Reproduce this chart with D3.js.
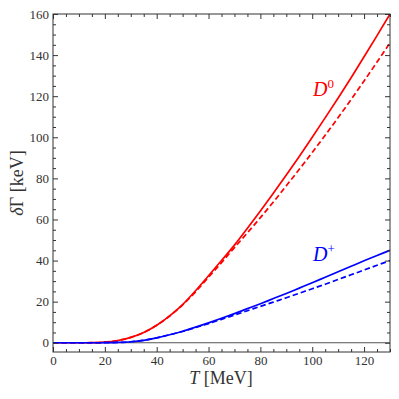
<!DOCTYPE html>
<html><head><meta charset="utf-8">
<script src="https://cdn.jsdelivr.net/npm/d3@7"></script>
<style>body{margin:0;background:#fff}svg{display:block}</style>
</head><body>
<svg id="c" width="399" height="399"></svg>
<script>
const T = [0,5,10,15,20,25,30,35,40,45,50,55,60,65,70,75,80,85,90,95,100,105,110,115,120,125,130];
const D0_full = [0,0,0,0.02,0.3,1.1,2.6,5.0,8.5,13.1,18.6,25.3,32.6,40.0,47.5,55.7,64.15,72.8,81.6,90.7,100.0,109.5,119.1,129.0,139.2,149.5,160.0];
const D0_approx = [0,0,0,0.02,0.3,1.1,2.6,5.0,8.5,13.0,18.4,24.8,31.9,39.0,46.3,53.5,60.9,68.5,76.4,84.4,92.6,101.0,109.6,118.4,127.4,136.6,146.0];
const Dp_full = [0,0,0,0,0.02,0.15,0.5,1.2,2.4,3.9,5.6,7.6,9.7,11.9,14.2,16.6,19.0,21.5,24.0,26.6,29.2,31.9,34.6,37.2,39.9,42.45,45.0];
const Dp_approx = [0,0,0,0,0.02,0.15,0.5,1.2,2.4,3.9,5.5,7.4,9.3,11.4,13.5,15.6,17.7,19.8,21.9,24.1,26.3,28.5,30.8,33.1,35.4,37.7,40.0];
const xTicks = [0,20,40,60,80,100,120];
const yTicks = [0,20,40,60,80,100,120,140,160];

const svg = d3.select("#c");
const L=53, R=390, Tp=14, B=352;
const x = d3.scaleLinear().domain([0,130]).range([L,R]);
const y = d3.scaleLinear().domain([-4.5,160]).range([B,Tp]);
const font = '"Liberation Serif"';
const axCol = "#333";

svg.append("clipPath").attr("id","clip").append("rect").attr("x",L).attr("y",Tp).attr("width",R-L).attr("height",B-Tp);

// zero line
svg.append("line").attr("x1",L).attr("x2",R).attr("y1",y(0)).attr("y2",y(0)).attr("stroke","#555").attr("stroke-width",1);

const line = d3.line().x((d,i)=>x(T[i])).y(d=>y(d)).curve(d3.curveMonotoneX);
const g = svg.append("g").attr("clip-path","url(#clip)");
const series = [
  [D0_approx,"#ff0000","5.5,3"],
  [D0_full,"#ff0000",null],
  [Dp_approx,"#0000ff","5.5,3"],
  [Dp_full,"#0000ff",null]
];
series.forEach(([d,c,dash])=>{
  g.append("path").attr("d",line(d)).attr("fill","none").attr("stroke",c).attr("stroke-width",1.7)
   .attr("stroke-dasharray",dash);
});

// axes with inward ticks on all sides
const xMinor = d3.range(0,131,5).filter(v=>v%20!==0);
const yMinor = d3.range(0,161,5).filter(v=>v%20!==0);
function ax(axisFn, scale, major, minor, tx, ty, labels){
  const gm = svg.append("g").attr("transform",`translate(${tx},${ty})`)
    .call(axisFn(scale).tickValues(major).tickSizeInner(-5).tickSizeOuter(0).tickFormat(labels?d3.format("d"):""));
  svg.append("g").attr("transform",`translate(${tx},${ty})`)
    .call(axisFn(scale).tickValues(minor).tickSizeInner(-3).tickSizeOuter(0).tickFormat(""));
  return gm;
}
const gxB = ax(d3.axisBottom,x,xTicks,xMinor,0,B,true);
ax(d3.axisTop,x,xTicks,xMinor,0,Tp,false);
const gyL = ax(d3.axisLeft,y,yTicks,yMinor,L,0,true);
ax(d3.axisRight,y,yTicks,yMinor,R,0,false);
svg.selectAll(".domain").remove();
svg.selectAll("g").attr("font-family",null);
svg.selectAll(".tick line").attr("stroke",axCol);
svg.append("rect").attr("x",L).attr("y",Tp).attr("width",R-L).attr("height",B-Tp).attr("fill","none").attr("stroke",axCol).attr("stroke-width",1);
gxB.selectAll("text").style("font-family",font).style("font-size","13px").attr("fill",axCol).attr("dy",null).attr("y",13);
gyL.selectAll("text").style("font-family",font).style("font-size","13px").attr("fill",axCol).attr("x",-4).attr("dy","0.32em");

// axis titles
const xt = svg.append("text").attr("x",221).attr("y",384).attr("text-anchor","middle").style("font-family",font).style("font-size","18px").attr("fill",axCol);
xt.append("tspan").style("font-style","italic").text("T");
xt.append("tspan").text(" [MeV]");
const yt = svg.append("text").attr("transform","translate(23,183) rotate(-90)").attr("text-anchor","middle").style("font-family",font).style("font-size","18px").attr("fill",axCol);
yt.append("tspan").style("font-style","italic").text("δ");
yt.append("tspan").text("Γ [keV]");

// curve labels
const l0 = svg.append("text").attr("x",313).attr("y",96).style("font-family",font).style("font-size","20px").attr("fill","#ff0000");
l0.append("tspan").style("font-style","italic").text("D");
l0.append("tspan").style("font-size","13px").attr("dy",-8).text("0");
const l1 = svg.append("text").attr("x",313).attr("y",261).style("font-family",font).style("font-size","20px").attr("fill","#0000ff");
l1.append("tspan").style("font-style","italic").text("D");
l1.append("tspan").style("font-size","13px").attr("dy",-8).text("+");
</script>
</body></html>
